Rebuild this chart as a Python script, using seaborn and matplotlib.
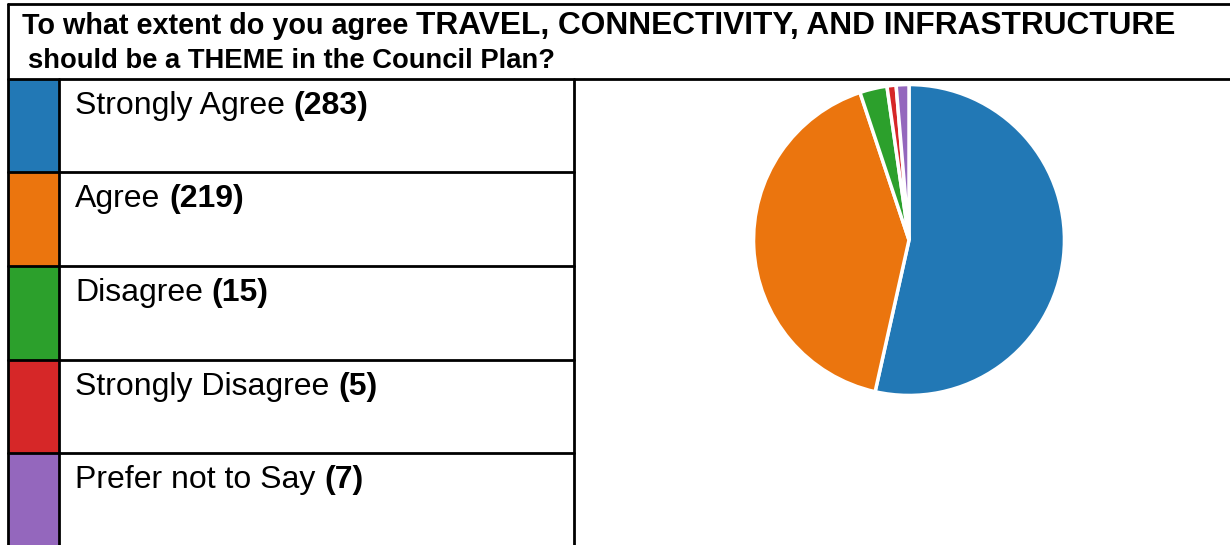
import numpy as np
import pandas as pd
import matplotlib.pyplot as plt
import seaborn as sns
from matplotlib.patches import Rectangle

# survey answers
categories = ["Strongly Agree", "Agree", "Disagree", "Strongly Disagree", "Prefer not to Say"]
counts = [283, 219, 15, 5, 7]
colors = ["#2278b5", "#eb750e", "#2ca02c", "#d62728", "#9467bd"]

title_lower = "To what extent do you agree"
title_upper = "TRAVEL, CONNECTIVITY, AND INFRASTRUCTURE"
title_line2 = "should be a THEME in the Council Plan?"

sns.set_theme(style="white")
plt.rcParams['font.family'] = ['Liberation Sans', 'DejaVu Sans']
plt.rcParams['text.color'] = 'black'

df = pd.DataFrame({'answer': categories, 'count': counts})
palette = sns.color_palette(colors)

W, H = 1230, 545
fig = plt.figure(figsize=(W / 100, H / 100), dpi=100)

# background axes in pixel units for the table
ax = fig.add_axes([0, 0, 1, 1])
ax.set_xlim(0, W)
ax.set_ylim(H, 0)
ax.axis('off')

lw = 2.0
row_top = [79, 172, 266, 360, 453]
row_h = 94

# swatch cells
for i, top in enumerate(row_top):
    ax.add_patch(Rectangle((8, top), 51, row_h, facecolor=palette[i], edgecolor='none', zorder=1))

# grid lines
ax.plot([8, W], [4, 4], color='black', lw=lw, zorder=3)
ax.plot([8, W], [79, 79], color='black', lw=lw, zorder=3)
ax.plot([8, 8], [4, H], color='black', lw=lw, zorder=3)
ax.plot([59, 59], [79, H], color='black', lw=lw, zorder=3)
ax.plot([574, 574], [79, H], color='black', lw=lw, zorder=3)
for top in row_top[1:]:
    ax.plot([8, 574], [top, top], color='black', lw=lw, zorder=3)

# title
t1 = ax.text(22, 34, title_lower, fontsize=20.7, fontweight='bold', va='baseline', ha='left', color='black')
ax.annotate(title_upper, xy=(1, 34), xycoords=(t1, 'data'), xytext=(20.7 * 0.278, 0),
            textcoords='offset points', fontsize=22.8, fontweight='bold', va='baseline', ha='left',
            color='black')
ax.text(28, 68, title_line2, fontsize=19.7, fontweight='bold', va='baseline', ha='left', color='black')

# row labels
for i, top in enumerate(row_top):
    t = ax.text(75, top + 35, df['answer'][i], fontsize=23, va='baseline', ha='left', color='black')
    ax.annotate("(" + str(df['count'][i]) + ")", xy=(1, top + 35), xycoords=(t, 'data'),
                xytext=(23 * 0.278, 0), textcoords='offset points',
                fontsize=23, fontweight='bold', va='baseline', ha='left', color='black')

# pie
cx, cy, r = 909, 240, 157
ax2 = fig.add_axes([(cx - r) / W, (H - cy - r) / H, 2 * r / W, 2 * r / H])
ax2.pie(df['count'], colors=palette, startangle=90, counterclock=False,
        wedgeprops={'edgecolor': 'white', 'linewidth': 2.5})
ax2.set_xlim(-1.01, 1.01)
ax2.set_ylim(-1.01, 1.01)
ax2.set_aspect('equal')
ax2.axis('off')

plt.savefig("out.png", dpi=100)
